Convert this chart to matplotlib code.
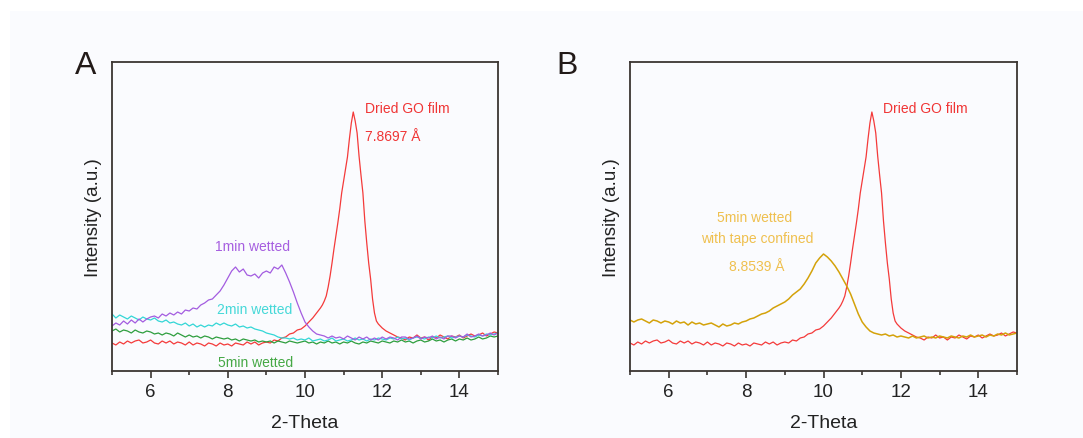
import numpy as np
import matplotlib
matplotlib.use("Agg")
import matplotlib.pyplot as plt
from matplotlib.patches import Rectangle

plt.rcParams['font.family'] = ['Liberation Sans', 'DejaVu Sans']

# ---------------- data (intensity in arbitrary units) ----------------
x_grid = np.round(np.arange(5.0, 15.001, 0.1), 2)

red_x = np.concatenate([
    np.round(np.arange(5.0, 10.401, 0.1), 2),
    np.round(np.arange(10.45, 12.001, 0.05), 2),
    np.round(np.arange(12.1, 15.001, 0.1), 2),
])
red_y = [
    28, 26, 29, 27, 30, 28, 30, 31, 28, 29,
    31, 28, 27, 30, 28, 30, 27, 29, 28, 26,
    29, 26, 28, 27, 25, 28, 27, 25, 28, 26,
    27, 25, 28, 27, 26, 29, 27, 29, 26, 28,
    29, 28, 31, 30, 33, 34, 37, 38, 41, 42,
    45, 49, 53, 58, 63,
    66, 70, 75, 84, 95, 108, 122, 135, 148, 162,
    178, 190, 202, 214, 232, 248, 259, 250, 238, 215,
    196, 178, 150, 128, 108, 92, 72, 58, 50, 47,
    45, 43,
    40, 38, 36, 34, 33, 31, 34, 33, 36, 33,
    34, 31, 34, 33, 36, 34, 32, 35, 34, 36,
    33, 35, 37, 35, 36, 38, 35, 37, 39, 38,
]

purple_y = [
    45, 48, 46, 50, 47, 51, 48, 52, 49, 52,
    54, 55, 53, 57, 55, 58, 56, 59, 57, 61,
    60, 63, 62, 66, 68, 71, 72, 76, 80, 86,
    93, 100, 104, 99, 102, 96, 95, 97, 93, 98,
    100, 98, 104, 102, 106, 98, 89, 79, 68, 58,
    49, 44, 40, 37, 36, 35, 33, 35, 33, 34,
    32, 35, 33, 31, 34, 32, 34, 31, 33, 31,
    34, 32, 34, 33, 31, 34, 34, 32, 33, 35,
    32, 34, 33, 35, 32, 34, 32, 35, 35, 33,
    35, 34, 37, 34, 35, 37, 35, 36, 38, 36,
    38,
]

cyan_y = [
    57, 53, 56, 54, 52, 55, 53, 51, 54, 52,
    51, 53, 50, 49, 51, 48, 49, 47, 46, 48,
    45, 47, 44, 46, 44, 46, 45, 48, 46, 48,
    46, 45, 47, 44, 45, 43, 44, 42, 41, 40,
    38, 37, 36, 34, 33, 33, 32, 33, 31, 32,
    31, 33, 30, 31, 32, 30, 31, 33, 30, 31,
    32, 30, 31, 33, 31, 32, 30, 32, 31, 33,
    32, 31, 33, 32, 34, 32, 33, 31, 33, 34,
    33, 32, 34, 33, 35, 33, 34, 35, 33, 34,
    35, 34, 36, 35, 34, 36, 35, 37, 36, 37,
    38,
]

green_y = [
    40, 42, 39, 41, 40, 38, 41, 39, 38, 40,
    39, 37, 38, 36, 38, 37, 35, 38, 36, 34,
    36, 34, 35, 33, 35, 34, 32, 34, 33, 32,
    33, 31, 32, 30, 32, 31, 30, 31, 29, 30,
    29, 30, 28, 30, 29, 28, 30, 29, 28, 29,
    30, 28, 29, 27, 29, 28, 30, 28, 29, 27,
    29, 28, 30, 28, 27, 29, 28, 30, 29, 28,
    30, 29, 28, 30, 29, 31, 29, 30, 28, 30,
    31, 29, 30, 32, 30, 31, 29, 31, 32, 30,
    32, 31, 33, 31, 32, 34, 32, 33, 35, 34,
    35,
]

gold_y = [
    51, 49, 51, 52, 50, 48, 51, 50, 48, 50,
    49, 47, 50, 48, 49, 46, 49, 47, 48, 46,
    47, 48, 46, 44, 47, 45, 46, 48, 47, 49,
    50, 52, 53, 55, 57, 58, 60, 63, 65, 67,
    69, 72, 76, 79, 82, 87, 93, 100, 108, 113,
    117, 114, 110, 105, 99, 92, 85, 77, 67, 57,
    49, 44, 40, 38, 37, 36, 37, 35, 36, 34,
    35, 34, 33, 35, 33, 34, 35, 33, 34, 33,
    35, 34, 33, 35, 34, 33, 35, 34, 36, 34,
    35, 36, 34, 36, 35, 37, 36, 38, 36, 37,
    38,
]

x_major = [6, 8, 10, 12, 14]
x_minor = [5, 7, 9, 11, 13, 15]

# ---------------- figure ----------------
W, H = 1083, 439
fig = plt.figure(figsize=(W / 100, H / 100), dpi=100)
fig.patch.set_facecolor('white')
bg = '#fafbfe'
fig.patches.append(Rectangle((10 / W, 0), 1 - 10 / W, 1 - 12 / H,
                             transform=fig.transFigure, facecolor=bg,
                             edgecolor='none', zorder=-10))

axA = fig.add_axes([112 / W, (H - 372) / H, 386 / W, 309 / H])
axB = fig.add_axes([630 / W, (H - 372) / H, 387 / W, 309 / H])

RED = '#f43a3a'
spine_col = '#3b3532'

for ax in (axA, axB):
    ax.set_facecolor(bg)
    ax.set_xlim(5, 15)
    ax.set_ylim(0, 309)
    ax.set_yticks([])
    ax.set_xticks(x_major)
    ax.set_xticks(x_minor, minor=True)
    ax.tick_params(axis='x', which='major', direction='out', length=5,
                   width=1.2, color=spine_col, labelsize=13.5, pad=3.5,
                   labelcolor='#222222')
    ax.tick_params(axis='x', which='minor', direction='out', length=3,
                   width=1.2, color=spine_col)
    for s in ax.spines.values():
        s.set_color(spine_col)
        s.set_linewidth(1.3)
    ax.set_xlabel('2-Theta', fontsize=14, color='#222222', labelpad=10)
    ax.set_ylabel('Intensity (a.u.)', fontsize=13.5, color='#222222', labelpad=7)

# Panel A
axA.plot(red_x, red_y, color=RED, lw=0.9)
axA.plot(x_grid, green_y, color='#2e9e3e', lw=0.9)
axA.plot(x_grid, cyan_y, color='#33d6d6', lw=0.9)
axA.plot(x_grid, purple_y, color='#a35ce0', lw=0.9)

axA.text(11.55, 263, 'Dried GO film', color='#f03535', fontsize=10, va='center', ha='left')
axA.text(11.55, 235, '7.8697 Å', color='#f03535', fontsize=10, va='center', ha='left')
axA.text(8.65, 125, '1min wetted', color='#a65ee0', fontsize=10, va='center', ha='center')
axA.text(8.70, 62, '2min wetted', color='#45d8d8', fontsize=10, va='center', ha='center')
axA.text(8.73, 9, '5min wetted', color='#45a845', fontsize=10, va='center', ha='center')

# Panel B
axB.plot(red_x, red_y, color=RED, lw=0.9)
axB.plot(x_grid, gold_y, color='#d4a20a', lw=1.1)

axB.text(11.54, 263, 'Dried GO film', color='#f03535', fontsize=10, va='center', ha='left')
axB.text(8.23, 154, '5min wetted', color='#efc04f', fontsize=10, va='center', ha='center')
axB.text(8.28, 133, 'with tape confined', color='#efc04f', fontsize=10, va='center', ha='center')
axB.text(8.28, 105, '8.8539 Å', color='#efc04f', fontsize=10, va='center', ha='center')

fig.text(86 / W, 1 - 66 / H, 'A', fontsize=23, ha='center', va='center', color='#221a18')
fig.text(567 / W, 1 - 66 / H, 'B', fontsize=23, ha='center', va='center', color='#221a18')

fig.savefig('out.png', dpi=100, facecolor='white')
